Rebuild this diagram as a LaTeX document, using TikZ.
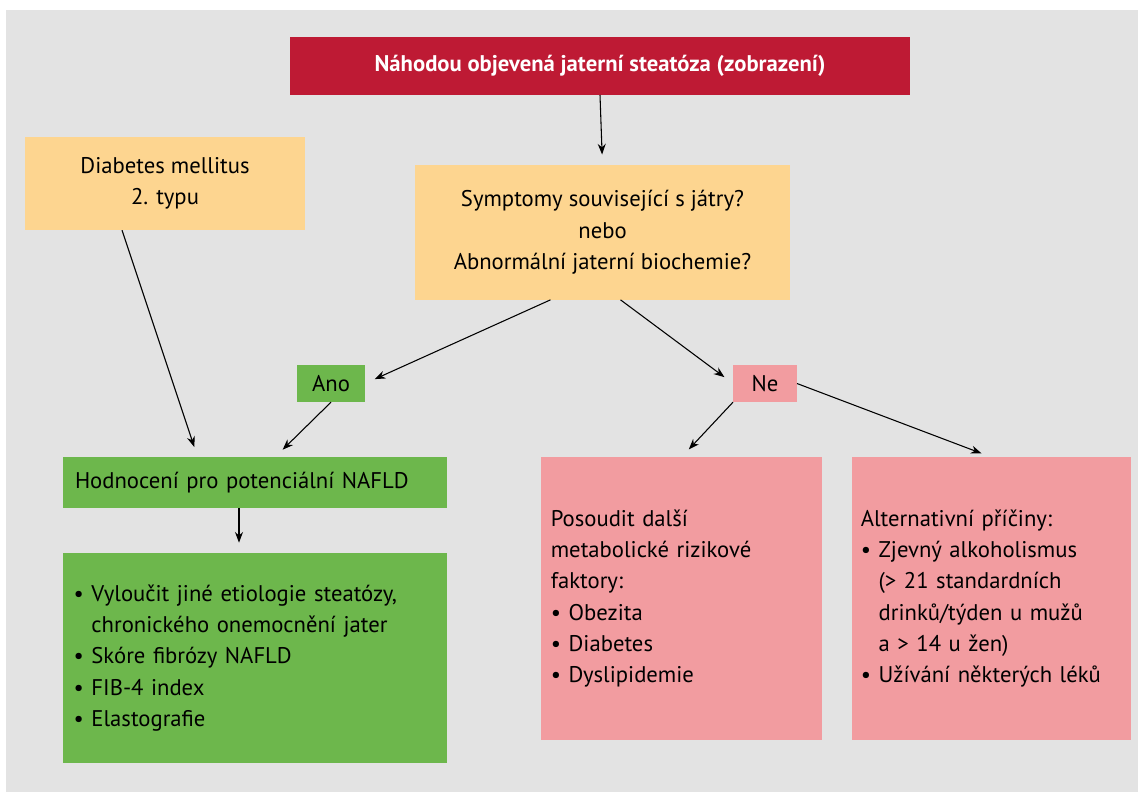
\documentclass[tikz,border=0pt]{standalone}
\usepackage{fontspec}
\setmainfont{PT Sans}
\usetikzlibrary{positioning}
\usetikzlibrary{arrows.meta}
\definecolor{panelgray}{HTML}{E3E3E3}
\definecolor{headred}{HTML}{BE1A34}
\definecolor{qorange}{HTML}{FDD590}
\definecolor{okgreen}{HTML}{6DB74C}
\definecolor{nopink}{HTML}{F29CA0}
\tikzset{
	box/.style={inner sep=0pt, outer sep=0pt, font=\fontsize{17}{23.5}\selectfont},
	arr/.style={-{Stealth[length=8pt,width=6pt]}, thick, shorten >=8pt},
}
\begin{document}
\begin{tikzpicture}[x=0.75pt,y=-0.75pt]
	\useasboundingbox (0,0) rectangle (1142,800);
	\fill[panelgray] (6,10) rectangle (1138,792);
	% header and questions
	\node [box, fill=headred, text=white, font=\bfseries\fontsize{17}{20}\selectfont, minimum width=465pt, minimum height=43.5pt] at (600,66) (0head) {Náhodou objevená jaterní steatóza (zobrazení)};
	\node [box, fill=qorange, minimum width=210pt, minimum height=70pt, align=center] at (165,183.5) (1dm) {Diabetes mellitus\\2. typu};
	\node [box, fill=qorange, minimum width=281pt, minimum height=101pt, align=center] at (602.5,232.5) (1sympt) {Symptomy související s játry?\\nebo\\Abnormální jaterní biochemie?};
	\node [box, fill=okgreen, minimum width=51pt, minimum height=28pt] at (331,383.5) (2ano) {Ano};
	\node [box, fill=nopink, minimum width=48pt, minimum height=28pt] at (765,383.5) (2ne) {Ne};
	% outcomes
	\node [box, fill=okgreen, minimum width=288pt, minimum height=38pt, text width=270pt] at (255,482.5) (3hodn) {Hodnocení pro potenciální NAFLD};
	\node [box, fill=okgreen, minimum width=288pt, minimum height=157pt, text width=272pt, align=left] at (255,658) (4vyl) {%
		\textbullet\ Vyloučit jiné etiologie steatózy,\\
		\phantom{\textbullet\ }chronického onemocnění jater\\
		\textbullet\ Skóre fibrózy NAFLD\\
		\textbullet\ FIB-4 index\\
		\textbullet\ Elastografie};
	\node [box, fill=nopink, minimum width=211pt, minimum height=212pt, text width=196pt, align=left] at (681.5,598.5) (3posoud) {%
		Posoudit další\\ metabolické rizikové\\ faktory:\\
		\textbullet\ Obezita\\ \textbullet\ Diabetes\\ \textbullet\ Dyslipidemie};
	\node [box, fill=nopink, minimum width=209pt, minimum height=212pt, text width=196pt, align=left] at (991.5,598.5) (3alt) {%
		Alternativní příčiny:\\
		\textbullet\ Zjevný alkoholismus\\
		\phantom{\textbullet\ }(> 21 standardních\\
		\phantom{\textbullet\ }drinků/týden u mužů\\
		\phantom{\textbullet\ }a > 14 u žen)\\
		\textbullet\ Užívání některých léků};
	\draw [arr] (0head.south) -- (1sympt.north);
	\draw [arr] (1sympt.south) ++(-52,0) coordinate (1s) (1s) -- (2ano.east);
	\draw [arr] (1sympt.south) ++(18,0) coordinate (1n) (1n) -- (2ne.west);
	\draw [arr] (1dm.south) ++(-43,0) coordinate (1d) (1d) -- ([xshift=-43]3hodn.north);
	\draw [arr] (2ano.south) -- ([xshift=15]3hodn.north);
	\draw [arr] (2ne.south west) -- (3posoud.north);
	\draw [arr] (2ne.east) -- (3alt.north);
	\draw [arr] ([xshift=-12]3hodn.south) -- ([xshift=-12]4vyl.north);
\end{tikzpicture}
\end{document}
